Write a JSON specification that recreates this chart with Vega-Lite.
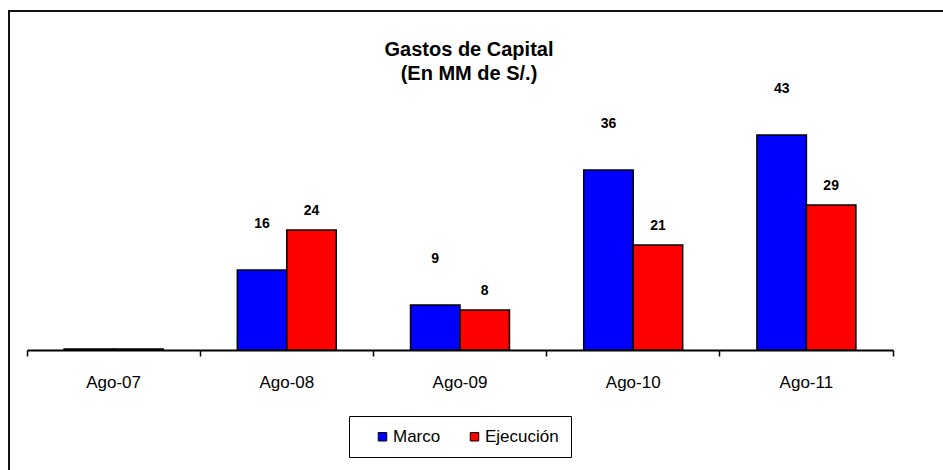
{
  "$schema": "https://vega.github.io/schema/vega-lite/v6.json",
  "autosize": "none",
  "width": 940,
  "height": 461,
  "padding": {"left": 9, "top": 11, "right": 0, "bottom": 0},
  "background": "white",
  "title": {
    "text": ["Gastos de Capital", "(En MM de S/.)"],
    "font": "Liberation Sans",
    "fontSize": 20,
    "fontWeight": "bold",
    "color": "black",
    "anchor": "start",
    "align": "center",
    "baseline": "top",
    "lineHeight": 24,
    "offset": 0,
    "dy": 73,
    "dx": 460
  },
  "config": {
    "view": {"stroke": "#111", "strokeWidth": 2},
    "font": "Liberation Sans"
  },
  "data": {
    "values": [
      {"periodo": "Ago-07", "serie": "Marco", "valor": 0.2},
      {"periodo": "Ago-07", "serie": "Ejecución", "valor": 0.2},
      {"periodo": "Ago-08", "serie": "Marco", "valor": 16},
      {"periodo": "Ago-08", "serie": "Ejecución", "valor": 24},
      {"periodo": "Ago-09", "serie": "Marco", "valor": 9},
      {"periodo": "Ago-09", "serie": "Ejecución", "valor": 8},
      {"periodo": "Ago-10", "serie": "Marco", "valor": 36},
      {"periodo": "Ago-10", "serie": "Ejecución", "valor": 21},
      {"periodo": "Ago-11", "serie": "Marco", "valor": 43},
      {"periodo": "Ago-11", "serie": "Ejecución", "valor": 29}
    ]
  },
  "encoding": {
    "x": {
      "field": "periodo",
      "type": "nominal",
      "sort": ["Ago-07", "Ago-08", "Ago-09", "Ago-10", "Ago-11"],
      "scale": {"range": [18, 884], "paddingInner": 0, "paddingOuter": 0},
      "axis": {
        "title": null,
        "orient": "bottom",
        "offset": -122,
        "domainColor": "black",
        "domainWidth": 2,
        "tickColor": "black",
        "tickWidth": 1.5,
        "tickSize": 6,
        "bandPosition": 1,
        "tickExtra": true,
        "labelAngle": 0,
        "labelFont": "Liberation Sans",
        "labelFontSize": 17,
        "labelColor": "black",
        "labelPadding": 18,
        "grid": false
      }
    },
    "xOffset": {
      "field": "serie",
      "type": "nominal",
      "sort": ["Marco", "Ejecución"],
      "scale": {"paddingInner": 0, "paddingOuter": 0.75}
    },
    "y": {
      "field": "valor",
      "type": "quantitative",
      "scale": {"domain": [0, 60], "range": [339, 39], "nice": false, "zero": true},
      "axis": null
    }
  },
  "layer": [
    {
      "mark": {"type": "bar", "stroke": "black", "strokeWidth": 1.5},
      "encoding": {
        "color": {
          "field": "serie",
          "type": "nominal",
          "sort": ["Marco", "Ejecución"],
          "scale": {"domain": ["Marco", "Ejecución"], "range": ["#0000FF", "#FF0000"]},
          "legend": {
            "title": null,
            "orient": "none",
            "legendX": 340,
            "legendY": 405,
            "direction": "horizontal",
            "strokeColor": "black",
            "padding": 12,
            "symbolType": "square",
            "symbolSize": 72,
            "symbolStrokeColor": "black",
            "symbolStrokeWidth": 1,
            "symbolOffset": 13,
            "labelFont": "Liberation Sans",
            "labelFontSize": 17,
            "labelColor": "black",
            "labelOffset": 2,
            "columnPadding": 12,
            "labelExpr": "datum.value == 'Ejecución' ? datum.label + ' \u2007\u2007' : datum.label"
          }
        }
      }
    },
    {
      "transform": [{"filter": "datum.valor > 1 && datum.serie == 'Marco'"}],
      "mark": {"type": "text", "font": "Liberation Sans", "fontSize": 14, "fontWeight": "bold", "color": "black", "baseline": "middle", "dy": -46},
      "encoding": {"text": {"field": "valor", "type": "quantitative"}}
    },
    {
      "transform": [{"filter": "datum.valor > 1 && datum.serie == 'Ejecución'"}],
      "mark": {"type": "text", "font": "Liberation Sans", "fontSize": 14, "fontWeight": "bold", "color": "black", "baseline": "middle", "dy": -19},
      "encoding": {"text": {"field": "valor", "type": "quantitative"}}
    }
  ]
}
